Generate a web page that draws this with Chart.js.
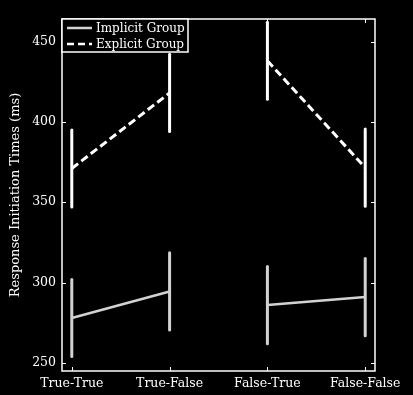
<!DOCTYPE html>
<html>
<head>
<meta charset="utf-8">
<script src="https://cdn.jsdelivr.net/npm/chart.js@4"></script>
<style>
  html, body { margin: 0; padding: 0; background: #000; }
  #wrap { width: 413px; height: 395px; }
</style>
</head>
<body>
<div id="wrap"><canvas id="chart" width="413" height="395"></canvas></div>
<script>
// data
const categories = ["True-True", "True-False", "False-True", "False-False"];
const implicitMean = [278, 294.5, 286, 291];
const implicitErr = [24, 24, 24, 24];
const explicitMean = [371, 418, 438, 371.5];
const explicitErr = [24, 24, 24, 24];
const yTicks = [250, 300, 350, 400, 450];

const IMPLICIT_COLOR = "#d2d2d2";
const EXPLICIT_COLOR = "#ffffff";
const FONT = "DejaVu Serif";

function points(values) {
  return values.map((v, i) => ({ x: i, y: v }));
}

// skip the segment between the two condition pairs
function gapSegment(color) {
  return (ctx) => (ctx.p0DataIndex === 1 ? "rgba(0,0,0,0)" : color);
}

const errorBars = {
  id: "errorBars",
  afterDatasetsDraw(chart) {
    const { ctx, scales } = chart;
    const sets = [
      { mean: implicitMean, err: implicitErr, color: IMPLICIT_COLOR },
      { mean: explicitMean, err: explicitErr, color: EXPLICIT_COLOR },
    ];
    ctx.save();
    ctx.lineWidth = 3;
    ctx.lineCap = "round";
    sets.forEach((s) => {
      ctx.strokeStyle = s.color;
      s.mean.forEach((m, i) => {
        const x = scales.x.getPixelForValue(i);
        ctx.beginPath();
        ctx.moveTo(x, scales.y.getPixelForValue(m - s.err[i]));
        ctx.lineTo(x, scales.y.getPixelForValue(m + s.err[i]));
        ctx.stroke();
      });
    });
    ctx.restore();
  },
};

// white frame with inward ticks on all four sides, plus boxed legend
const frame = {
  id: "frame",
  afterDraw(chart) {
    const { ctx, chartArea: a, scales } = chart;
    ctx.save();
    ctx.strokeStyle = "#ffffff";
    ctx.lineWidth = 1.5;
    ctx.strokeRect(a.left, a.top, a.right - a.left, a.bottom - a.top);
    ctx.lineWidth = 1;
    const t = 4;
    yTicks.forEach((v) => {
      const y = Math.round(scales.y.getPixelForValue(v)) + 0.5;
      ctx.beginPath();
      ctx.moveTo(a.left, y); ctx.lineTo(a.left + t, y);
      ctx.moveTo(a.right, y); ctx.lineTo(a.right - t, y);
      ctx.stroke();
    });
    categories.forEach((c, i) => {
      const x = Math.round(scales.x.getPixelForValue(i)) + 0.5;
      ctx.beginPath();
      ctx.moveTo(x, a.bottom); ctx.lineTo(x, a.bottom - t);
      ctx.moveTo(x, a.top); ctx.lineTo(x, a.top + t);
      ctx.stroke();
    });

    // legend
    const lx = a.left, ly = a.top, lw = 126, lh = 33;
    ctx.fillStyle = "#000";
    ctx.fillRect(lx, ly, lw, lh);
    ctx.lineWidth = 1.5;
    ctx.strokeStyle = "#ffffff";
    ctx.strokeRect(lx, ly, lw, lh);
    const rows = [
      { label: "Implicit Group", color: IMPLICIT_COLOR, dash: [] },
      { label: "Explicit Group", color: EXPLICIT_COLOR, dash: [7, 4] },
    ];
    ctx.font = "12px '" + FONT + "'";
    ctx.textBaseline = "middle";
    rows.forEach((r, i) => {
      const y = ly + 9 + i * 16;
      ctx.strokeStyle = r.color;
      ctx.lineWidth = 2.5;
      ctx.setLineDash(r.dash);
      ctx.beginPath();
      ctx.moveTo(lx + 5, y);
      ctx.lineTo(lx + 30, y);
      ctx.stroke();
      ctx.setLineDash([]);
      ctx.fillStyle = "#ffffff";
      ctx.fillText(r.label, lx + 34, y + 0.5);
    });
    ctx.restore();
  },
};

new Chart(document.getElementById("chart"), {
  type: "line",
  data: {
    datasets: [
      {
        label: "Implicit Group",
        data: points(implicitMean),
        borderColor: IMPLICIT_COLOR,
        borderWidth: 2.5,
        pointRadius: 0,
        segment: { borderColor: gapSegment(IMPLICIT_COLOR) },
      },
      {
        label: "Explicit Group",
        data: points(explicitMean),
        borderColor: EXPLICIT_COLOR,
        borderWidth: 3,
        borderDash: [8, 4],
        pointRadius: 0,
        segment: { borderColor: gapSegment(EXPLICIT_COLOR) },
      },
    ],
  },
  options: {
    responsive: false,
    animation: false,
    layout: { padding: { left: 0, right: 38, top: 19, bottom: 0 } },
    plugins: { legend: { display: false }, tooltip: { enabled: false } },
    scales: {
      x: {
        type: "linear",
        min: -0.1,
        max: 3.1,
        afterBuildTicks: (s) => { s.ticks = categories.map((c, i) => ({ value: i })); },
        afterFit: (s) => { s.height = 24; },
        ticks: {
          color: "#ffffff",
          font: { family: FONT, size: 12.5 },
          padding: 5,
          maxRotation: 0,
          callback: (v) => categories[v],
        },
        grid: { display: false, drawTicks: false },
        border: { display: false },
      },
      y: {
        min: 245,
        max: 464,
        afterBuildTicks: (s) => { s.ticks = yTicks.map((v) => ({ value: v })); },
        afterFit: (s) => { s.width = 62; },
        ticks: {
          color: "#ffffff",
          font: { family: FONT, size: 12.5 },
          padding: 6,
        },
        grid: { display: false, drawTicks: false },
        border: { display: false },
        title: {
          display: true,
          text: "Response Initiation Times (ms)",
          color: "#ffffff",
          font: { family: FONT, size: 13 },
          padding: { top: 8, bottom: 0 },
        },
      },
    },
  },
  plugins: [errorBars, frame],
});
</script>
</body>
</html>
